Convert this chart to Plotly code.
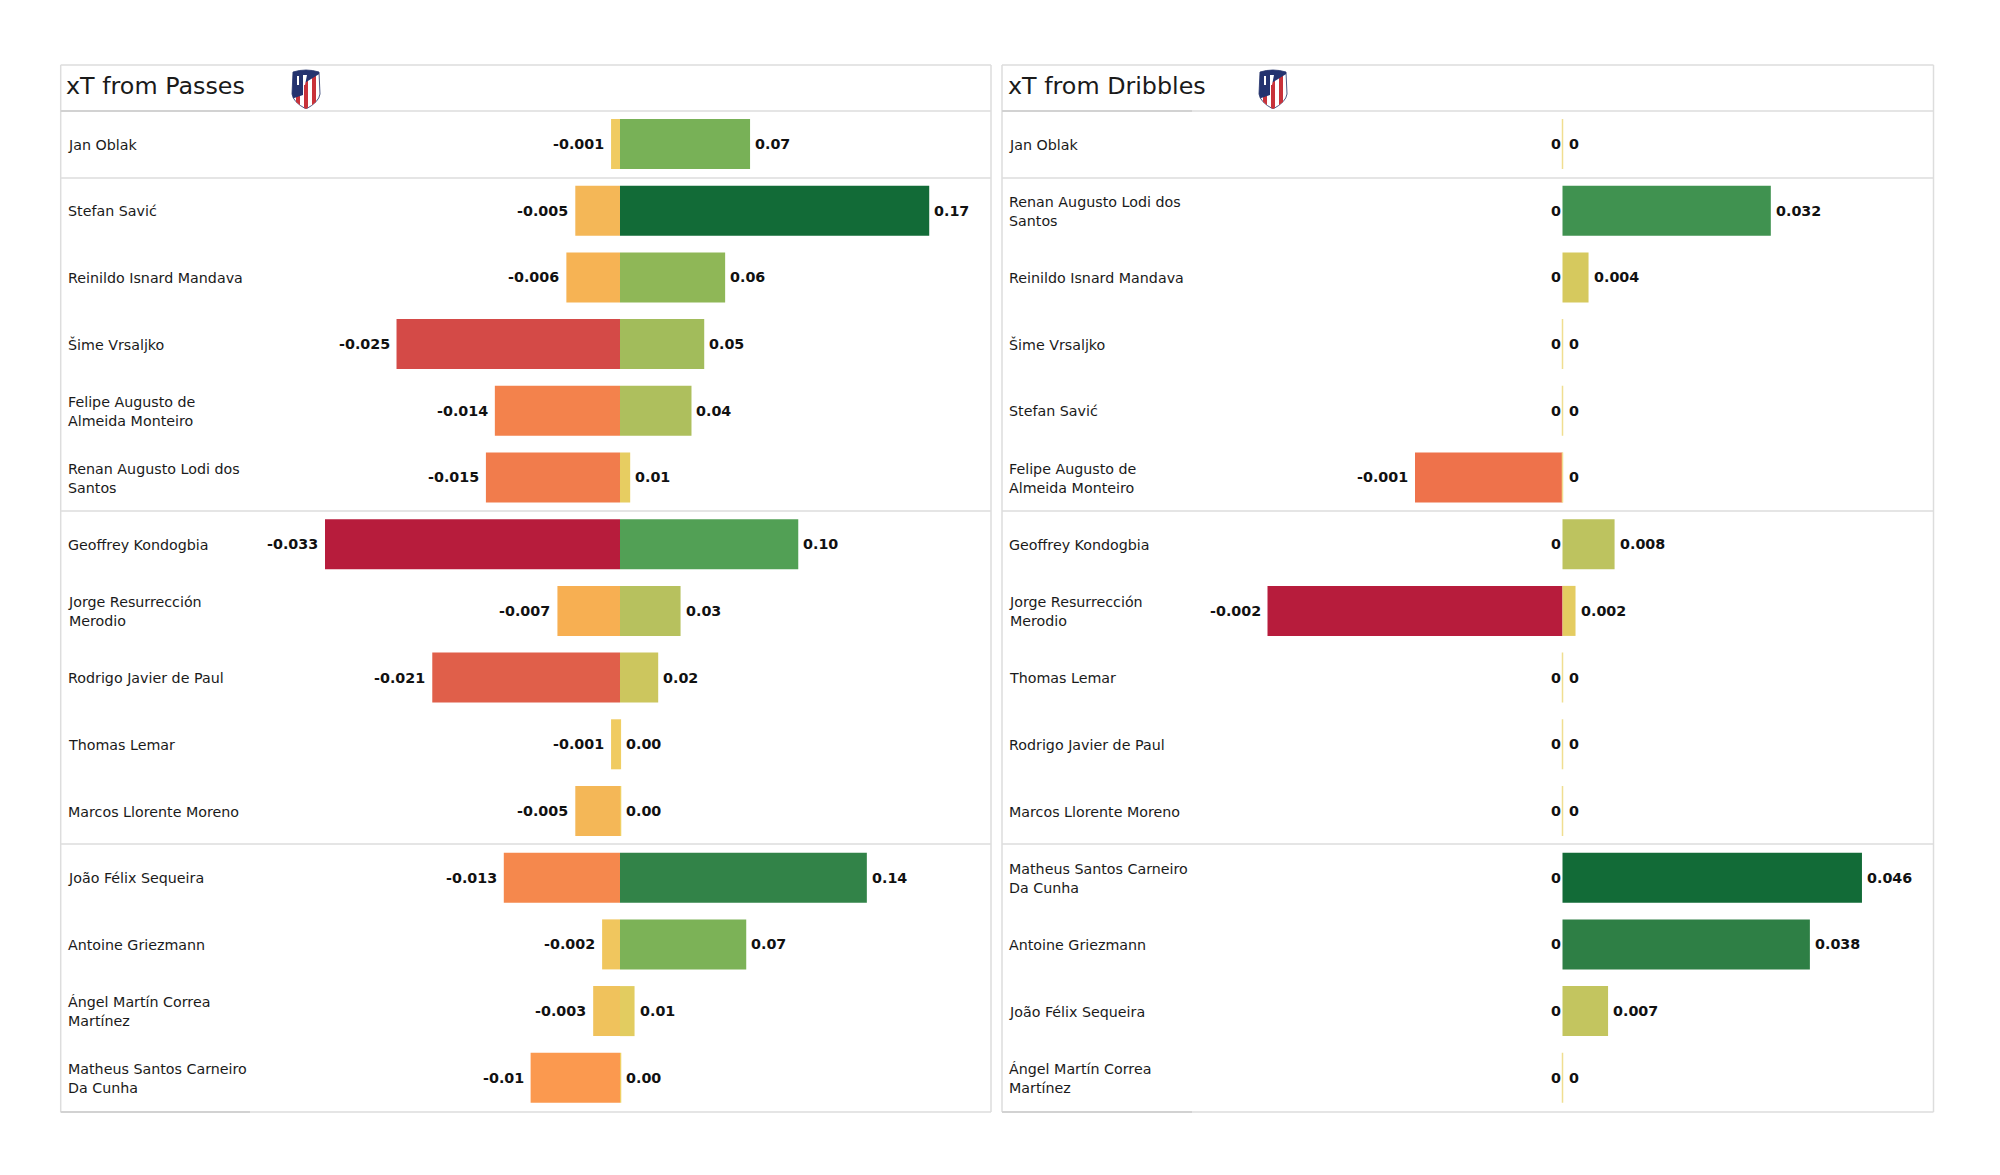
import plotly.graph_objects as go
import urllib.parse

W, H = 2000, 1175

title_left = "xT from Passes"
names_left = ["Jan Oblak", "Stefan Savić", "Reinildo Isnard Mandava", "Šime Vrsaljko",
              "Felipe Augusto de<br>Almeida Monteiro", "Renan Augusto Lodi dos<br>Santos",
              "Geoffrey Kondogbia", "Jorge Resurrección<br>Merodio", "Rodrigo Javier de Paul",
              "Thomas Lemar", "Marcos Llorente Moreno", "João Félix Sequeira", "Antoine Griezmann",
              "Ángel Martín Correa<br>Martínez", "Matheus Santos Carneiro<br>Da Cunha"]
neg_left = [-0.001, -0.005, -0.006, -0.025, -0.014, -0.015, -0.033, -0.007, -0.021, -0.001, -0.005, -0.013, -0.002, -0.003, -0.01]
pos_left = [0.0715, 0.17, 0.0578, 0.0463, 0.0393, 0.0056, 0.098, 0.0333, 0.021, 0.0006, 0.0007, 0.1357, 0.0694, 0.008, 0.0007]
neg_left_labels = ["-0.001", "-0.005", "-0.006", "-0.025", "-0.014", "-0.015", "-0.033", "-0.007", "-0.021", "-0.001", "-0.005", "-0.013", "-0.002", "-0.003", "-0.01"]
pos_left_labels = ["0.07", "0.17", "0.06", "0.05", "0.04", "0.01", "0.10", "0.03", "0.02", "0.00", "0.00", "0.14", "0.07", "0.01", "0.00"]

title_right = "xT from Dribbles"
names_right = ["Jan Oblak", "Renan Augusto Lodi dos<br>Santos", "Reinildo Isnard Mandava", "Šime Vrsaljko",
               "Stefan Savić", "Felipe Augusto de<br>Almeida Monteiro", "Geoffrey Kondogbia",
               "Jorge Resurrección<br>Merodio", "Thomas Lemar", "Rodrigo Javier de Paul",
               "Marcos Llorente Moreno", "Matheus Santos Carneiro<br>Da Cunha", "Antoine Griezmann",
               "João Félix Sequeira", "Ángel Martín Correa<br>Martínez"]
neg_right = [0, 0, 0, 0, 0, -0.001, 0, -0.002, 0, 0, 0, 0, 0, 0, 0]
pos_right = [0, 0.032, 0.004, 0, 0, 0, 0.008, 0.002, 0, 0, 0, 0.046, 0.038, 0.007, 0]
neg_right_labels = ["0", "0", "0", "0", "0", "-0.001", "0", "-0.002", "0", "0", "0", "0", "0", "0", "0"]
pos_right_labels = ["0", "0.032", "0.004", "0", "0", "0", "0.008", "0.002", "0", "0", "0", "0.046", "0.038", "0.007", "0"]

neg_scale = [[0.0, "#B71C3C"], [0.24, "#D44A47"], [0.36, "#E05F4A"], [0.5, "#EE724B"], [0.576, "#F3824C"],
             [0.7, "#FB9A4F"], [0.79, "#F7AF52"], [0.85, "#F4B757"], [0.91, "#F0C25C"], [1.0, "#F0CF63"]]
pos_scale = [[0.0, "#F1CF63"], [0.087, "#D6C95E"], [0.174, "#BDC35F"], [0.27, "#A3BC5B"], [0.34, "#8FB757"],
             [0.41, "#7BB257"], [0.575, "#52A055"], [0.7, "#3F9250"], [0.82, "#2F8046"], [1.0, "#126B37"]]

TEXT = "#1a1a1a"
GRID = "#DDDDDD"
FONT = "DejaVu Sans"

def px(v): return v / W
def py(v): return 1 - v / H

crest = """<svg xmlns='http://www.w3.org/2000/svg' viewBox='0 0 30 40'>
<path d='M2 3 Q15 -1 28 3 L29 25 Q28 33 15 40 Q2 33 1 25 Z' fill='#ffffff' stroke='#1f2f66' stroke-width='.8'/>
<clipPath id='c'><path d='M2 3 Q15 -1 28 3 L29 25 Q28 33 15 40 Q2 33 1 25 Z'/></clipPath>
<g clip-path='url(#c)'>
<rect x='5' y='12' width='4' height='28' fill='#c8323a'/><rect x='13' y='8' width='4' height='32' fill='#c8323a'/>
<rect x='21' y='4' width='4' height='36' fill='#c8323a'/>
<path d='M0 0 H30 V4 L12 15 V26 L0 30 Z' fill='#24336f'/>
</g>
<path d='M6 7 h2 v9 h-2z M12 6 h4 l-2 10 h-2z' fill='#fff'/>
</svg>"""
crest_uri = "data:image/svg+xml;utf8," + urllib.parse.quote(crest)

fig = go.Figure()
shapes, annotations, images = [], [], []

ROW0, ROWSTEP = 144.0, 66.7
TOP, HEAD, BOTTOM = 65, 111, 1112
yrange = [(BOTTOM - ROW0) / ROWSTEP, (HEAD - ROW0) / ROWSTEP]
rows = list(range(15))

panels = [
    dict(x0=60.7, x1=991, zero=620.0, neg_k=8939.0, pos_k=1819.0, title=title_left, names=names_left,
         neg=neg_left, pos=pos_left, nl=neg_left_labels, pl=pos_left_labels, xa=("x", "x2"), ya="y",
         logo=291, mark=250),
    dict(x0=1002, x1=1933.5, zero=1562.5, neg_k=147500.0, pos_k=6510.0, title=title_right, names=names_right,
         neg=neg_right, pos=pos_right, nl=neg_right_labels, pl=pos_right_labels, xa=("x3", "x4"), ya="y2",
         logo=1258, mark=1192),
]

for i, p in enumerate(panels):
    dom = [px(p["x0"]), px(p["x1"])]
    neg_range = [(p["x0"] - p["zero"]) / p["neg_k"], (p["x1"] - p["zero"]) / p["neg_k"]]
    pos_range = [(p["x0"] - p["zero"]) / p["pos_k"], (p["x1"] - p["zero"]) / p["pos_k"]]
    neg_xa, pos_xa = p["xa"]
    common = dict(domain=dom, visible=False, fixedrange=True, anchor=p["ya"])
    fig.update_layout({
        ("xaxis" + neg_xa[1:]): dict(range=neg_range, **common),
        ("xaxis" + pos_xa[1:]): dict(range=pos_range, overlaying=neg_xa, **common),
        ("yaxis" + p["ya"][1:]): dict(domain=[py(BOTTOM), py(HEAD)], range=yrange, visible=False,
                                      fixedrange=True, anchor=neg_xa),
    })
    nmin = min(p["neg"])
    pmax = max(p["pos"])
    fig.add_bar(y=rows, x=p["neg"], orientation="h", width=0.75, xaxis=neg_xa, yaxis=p["ya"], showlegend=False,
                marker=dict(color=p["neg"], colorscale=neg_scale, cmin=nmin, cmax=0, showscale=False,
                            line=dict(width=0)), hoverinfo="skip")
    fig.add_bar(y=rows, x=p["pos"], orientation="h", width=0.75, xaxis=pos_xa, yaxis=p["ya"], showlegend=False,
                marker=dict(color=p["pos"], colorscale=pos_scale, cmin=0, cmax=pmax, showscale=False,
                            line=dict(width=1.5, color=[("#F0DE90" if v == 0 else "rgba(0,0,0,0)") for v in p["pos"]])),
                hoverinfo="skip")
    for r in rows:
        annotations.append(dict(x=p["neg"][r], y=r, xref=neg_xa, yref=p["ya"], text="<b>" + p["nl"][r] + "</b>",
                                showarrow=False, xanchor="right", yanchor="middle",
                                xshift=(0 if p["neg"][r] == 0 else -5),
                                font=dict(family=FONT, size=14.3, color="#111111")))
        annotations.append(dict(x=p["pos"][r], y=r, xref=pos_xa, yref=p["ya"], text="<b>" + p["pl"][r] + "</b>",
                                showarrow=False, xanchor="left", yanchor="middle",
                                xshift=(4 if p["pos"][r] == 0 else 3),
                                font=dict(family=FONT, size=14.3, color="#111111")))
        annotations.append(dict(x=px(p["x0"] + 5), y=py(ROW0 + ROWSTEP * r + 0.5), xref="paper", yref="paper",
                                text=p["names"][r], showarrow=False, xanchor="left", yanchor="middle", align="left",
                                font=dict(family=FONT, size=14.25, color=TEXT)))
    annotations.append(dict(x=px(p["x0"] + 3.5), y=py(86), xref="paper", yref="paper", text=p["title"], showarrow=False,
                            xanchor="left", yanchor="middle", font=dict(family=FONT, size=23.8, color=TEXT)))
    images.append(dict(source=crest_uri, xref="paper", yref="paper", x=px(p["logo"]), y=py(69), sizex=px(30),
                       sizey=40 / H, xanchor="left", yanchor="top", sizing="stretch", layer="above"))
    # panel frame and group rules
    for yy in (TOP, HEAD, 178, 511, 844, BOTTOM):
        shapes.append(dict(type="line", xref="paper", yref="paper", x0=px(p["x0"]), x1=px(p["x1"]),
                           y0=py(yy), y1=py(yy), line=dict(color=GRID, width=1.5)))
    for xx in (p["x0"], p["x1"]):
        shapes.append(dict(type="line", xref="paper", yref="paper", x0=px(xx), x1=px(xx), y0=py(TOP), y1=py(BOTTOM),
                           line=dict(color=GRID, width=1.5)))
    for yy in (HEAD, BOTTOM):
        shapes.append(dict(type="line", xref="paper", yref="paper", x0=px(p["x0"]), x1=px(p["mark"]),
                           y0=py(yy), y1=py(yy), line=dict(color="#D2D2D2", width=2)))

fig.update_layout(width=W, height=H, margin=dict(l=0, r=0, t=0, b=0), barmode="overlay",
                  plot_bgcolor="white", paper_bgcolor="white", shapes=shapes, annotations=annotations, images=images,
                  font=dict(family=FONT))
fig.write_html("out.html", config={"displayModeBar": False},
               post_script="document.body.style.margin='0';")
